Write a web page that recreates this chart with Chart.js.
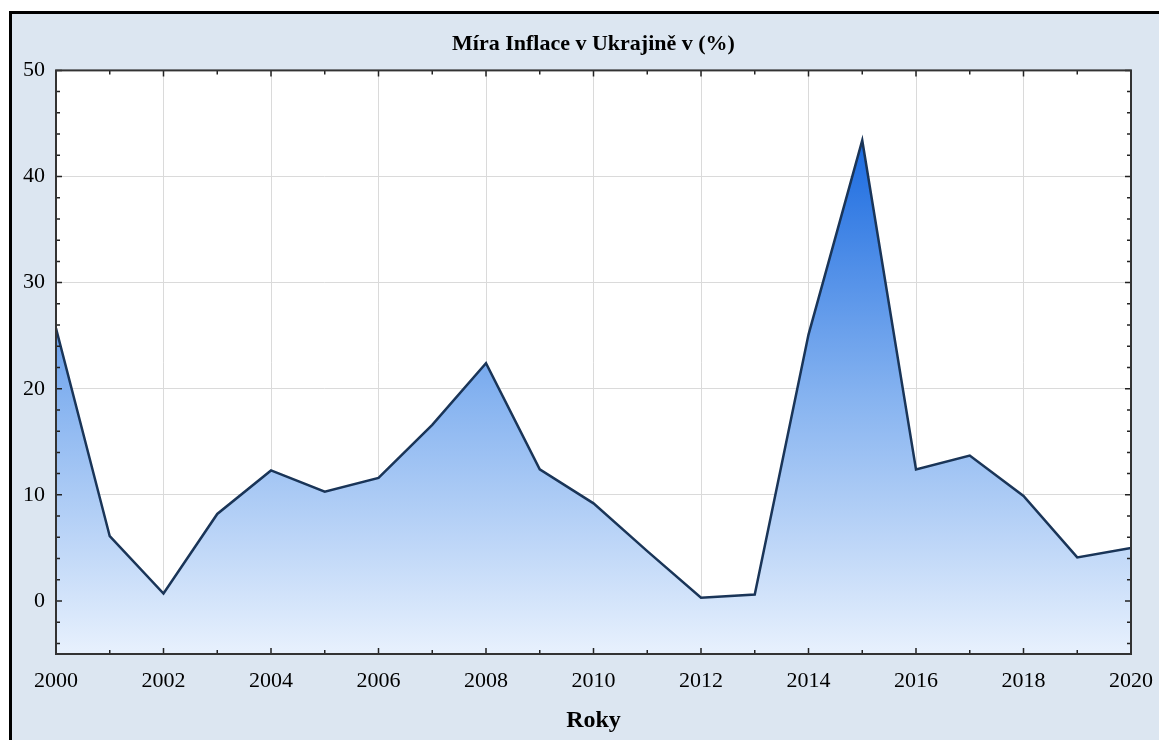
<!DOCTYPE html>
<html>
<head>
<meta charset="utf-8">
<title>Míra Inflace v Ukrajině</title>
<script src="https://cdn.jsdelivr.net/npm/chart.js@4.4.0/dist/chart.umd.min.js"></script>
<style>
    html, body { margin: 0; padding: 0; background: #fff; }
</style>
</head>
<body>
<canvas id="chart" width="1159" height="740"></canvas>
<script>
// data
const years = [2000, 2001, 2002, 2003, 2004, 2005, 2006, 2007, 2008, 2009, 2010,
               2011, 2012, 2013, 2014, 2015, 2016, 2017, 2018, 2019, 2020]
const inflation = [25.7, 6.1, 0.7, 8.2, 12.3, 10.3, 11.6, 16.6, 22.4, 12.4, 9.2,
                   4.7, 0.3, 0.6, 25.1, 43.4, 12.4, 13.7, 9.9, 4.1, 5.0]
const xTicks = [2000, 2002, 2004, 2006, 2008, 2010, 2012, 2014, 2016, 2018, 2020]
const yTicks = [0, 10, 20, 30, 40, 50]
const yMin = -5
const yMax = 50

const serif = "'Liberation Serif', 'Times New Roman', serif"


// frame, background and inward tick marks like the original plot
const framePlugin = {
    id: 'frame',
    beforeDraw(chart) {
        const { ctx, width, height } = chart
        ctx.save()
        ctx.fillStyle = '#fff'
        ctx.fillRect(0, 0, width, height)
        ctx.fillStyle = '#dce6f1'
        ctx.fillRect(9, 11, width - 9, height - 11)
        ctx.fillStyle = '#000'
        ctx.fillRect(9, 11, 3, height - 11)
        ctx.fillRect(9, 11, width - 9, 3)
        const a = chart.chartArea
        ctx.fillStyle = '#fff'
        ctx.fillRect(a.left, a.top, a.right - a.left, a.bottom - a.top)
        ctx.restore()
    },
    afterDatasetsDraw(chart) {
        const { ctx } = chart
        const a = chart.chartArea
        const x = chart.scales.x
        const y = chart.scales.y
        ctx.save()
        ctx.strokeStyle = '#222'
        ctx.lineWidth = 1.5

        for (let yr = years[0]; yr <= years[years.length - 1]; yr++) {
            const px = x.getPixelForValue(yr)
            const len = yr % 2 === 0 ? 6 : 4
            ctx.beginPath()
            ctx.moveTo(px, a.bottom); ctx.lineTo(px, a.bottom - len)
            ctx.moveTo(px, a.top); ctx.lineTo(px, a.top + len)
            ctx.stroke()
        }
        for (let v = yMin + 1; v <= yMax; v += 2) {
            const py = y.getPixelForValue(v)
            const len = v % 10 === 0 ? 6 : 4
            ctx.beginPath()
            ctx.moveTo(a.left, py); ctx.lineTo(a.left + len, py)
            ctx.moveTo(a.right, py); ctx.lineTo(a.right - len, py)
            ctx.stroke()
        }

        ctx.strokeStyle = '#333'
        ctx.lineWidth = 2
        ctx.strokeRect(a.left, a.top, a.right - a.left, a.bottom - a.top)
        ctx.restore()
    }
}


const areaFill = context => {
    const chart = context.chart
    const a = chart.chartArea
    if (!a) return '#8ab5f0'
    const y = chart.scales.y
    const top = y.getPixelForValue(Math.max(...inflation))
    const g = chart.ctx.createLinearGradient(0, top, 0, a.bottom)
    g.addColorStop(0, '#1b6be0')
    g.addColorStop(0.5, '#86b3f0')
    g.addColorStop(1, '#e8f1fd')
    return g
}


const data = {
    datasets: [{
        data: years.map((yr, i) => ({ x: yr, y: inflation[i] })),
        borderColor: '#1a3558',
        borderWidth: 2.5,
        backgroundColor: areaFill,
        fill: 'start',
        pointRadius: 0,
        tension: 0
    }]
}

const options = {
    responsive: false,
    animation: false,
    devicePixelRatio: 1,
    layout: {
        padding: { left: 9, right: 28, top: 0, bottom: 0 }
    },
    plugins: {
        legend: { display: false },
        tooltip: { enabled: false },
        title: {
            display: true,
            fullSize: false,
            text: 'Míra Inflace v Ukrajině v (%)',
            color: '#000',
            font: { family: serif, size: 22, weight: 'bold' },
            padding: { top: 31, bottom: 13 }
        }
    },
    scales: {
        x: {
            type: 'linear',
            min: years[0],
            max: years[years.length - 1],
            afterBuildTicks: scale => { scale.ticks = xTicks.map(v => ({ value: v })) },
            afterFit: scale => {
                scale.height = 86
                scale.paddingLeft = 0
                scale.paddingRight = 0
            },
            grid: { color: '#dadada', lineWidth: 1, drawTicks: false },
            border: { display: false },
            ticks: {
                color: '#000',
                font: { family: serif, size: 22 },
                padding: 14,
                maxRotation: 0,
                callback: v => String(v)
            },
            title: {
                display: true,
                text: 'Roky',
                color: '#000',
                font: { family: serif, size: 24, weight: 'bold' },
                padding: { top: 0, bottom: 5 }
            }
        },
        y: {
            min: yMin,
            max: yMax,
            afterBuildTicks: scale => { scale.ticks = yTicks.map(v => ({ value: v })) },
            afterFit: scale => { scale.width = 47 },
            grid: { color: '#dadada', lineWidth: 1, drawTicks: false },
            border: { display: false },
            ticks: {
                color: '#000',
                font: { family: serif, size: 22 },
                padding: 11
            }
        }
    }
}

new Chart('chart', {
    type: 'line',
    data,
    options,
    plugins: [framePlugin]
})
</script>
</body>
</html>
